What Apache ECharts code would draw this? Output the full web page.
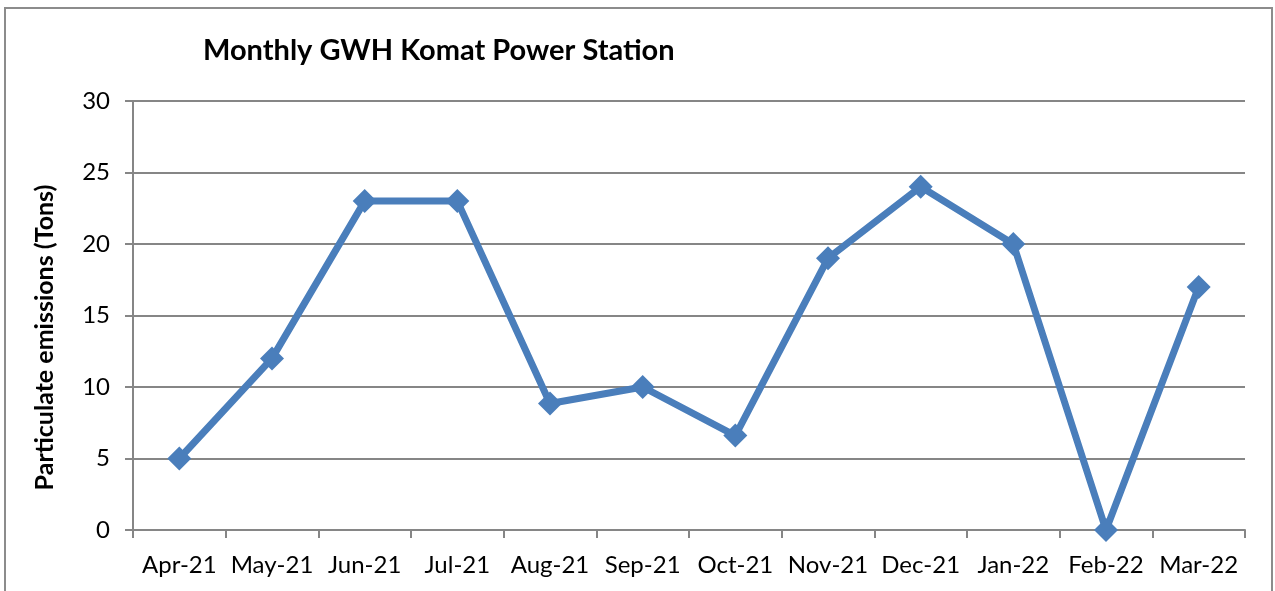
<!DOCTYPE html>
<html><head><meta charset="utf-8">
<script src="https://cdn.jsdelivr.net/npm/echarts@6/dist/echarts.min.js"></script>
<style>html,body{margin:0;padding:0;background:#fff}#c{width:1275px;height:591px}</style>
</head><body><div id="c"></div>
<script>
const categories = ['Apr-21','May-21','Jun-21','Jul-21','Aug-21','Sep-21','Oct-21','Nov-21','Dec-21','Jan-22','Feb-22','Mar-22'];
const emissions = [5, 12, 23, 23, 8.85, 10, 6.6, 19, 24, 20, 0, 17];
const yTicks = {min: 0, max: 30, interval: 5};
const FONT = 'Lato, "Open Sans", sans-serif';
const chart = echarts.init(document.getElementById('c'));
chart.setOption({
  animation: false,
  backgroundColor: '#fff',
  graphic: [{type:'rect', shape:{x:5, y:8, width:1267, height:600}, style:{fill:'none', stroke:'#8c8c8c', lineWidth:2}, silent:true}],
  title: {text:'Monthly GWH Komat Power Station', left:198, top:31, textStyle:{fontFamily:FONT, fontWeight:'bold', fontSize:29, color:'#000'}},
  grid: {left:133, right:30, top:101, bottom:61},
  xAxis: {type:'category', data:categories, boundaryGap:true,
    axisLine:{lineStyle:{color:'#868686', width:2}},
    axisTick:{show:true, alignWithLabel:false, length:8, lineStyle:{color:'#868686', width:2}},
    axisLabel:{fontFamily:FONT, fontSize:24, color:'#000', margin:23, interval:0},
    splitLine:{show:false}},
  yAxis: {type:'value', min:yTicks.min, max:yTicks.max, interval:yTicks.interval,
    name:'Particulate emissions (Tons)', nameLocation:'middle', nameGap:76, nameRotate:90,
    nameTextStyle:{fontFamily:FONT, fontWeight:'bold', fontSize:25, color:'#000', padding:[0,44,0,0]},
    axisLine:{show:true, lineStyle:{color:'#868686', width:2}},
    axisTick:{show:true, length:8, lineStyle:{color:'#868686', width:2}},
    axisLabel:{fontFamily:FONT, fontSize:24, color:'#000', margin:23},
    splitLine:{show:true, lineStyle:{color:'#868686', width:2}}},
  series: [{type:'line', data:emissions, symbol:'diamond', symbolSize:24,
    lineStyle:{color:'#4a7ebb', width:7}, itemStyle:{color:'#4a7ebb'}}]
});
</script></body></html>
